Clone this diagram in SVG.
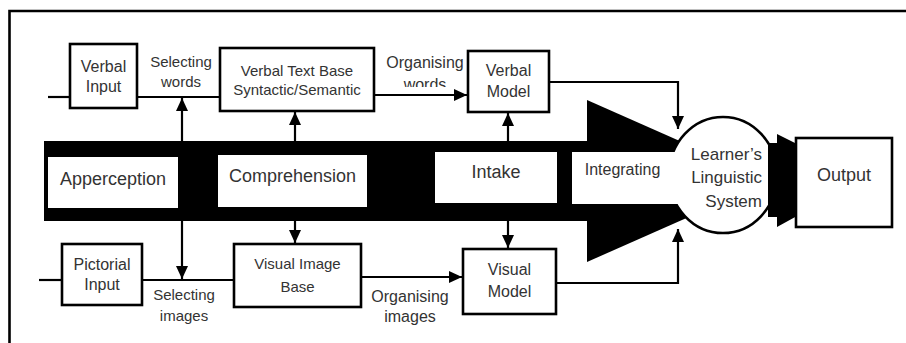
<svg xmlns="http://www.w3.org/2000/svg" width="906" height="343" viewBox="0 0 906 343">
<style>
  text { font-family: "Liberation Sans", Arial, sans-serif; fill: #333; text-anchor: middle; }
  .box { fill: #fff; stroke: #000; stroke-width: 2.6; }
  .wbox { fill: #fff; stroke: none; }
  .ln { fill: none; stroke: #000; stroke-width: 2.2; }
  .arr { fill: none; stroke: #000; stroke-width: 2.2; marker-end: url(#ah); }
  .s15 { font-size: 15px; }
  .s16 { font-size: 16px; }
  .s17 { font-size: 17px; }
  .s18 { font-size: 18px; }
</style>
<defs>
  <marker id="ah" markerUnits="userSpaceOnUse" markerWidth="13" markerHeight="12" refX="13" refY="6" orient="auto">
    <path d="M0,0 L13,6 L0,12 z" fill="#000"/>
  </marker>
  <clipPath id="clipWords"><rect x="380" y="70" width="90" height="17"/></clipPath>
</defs>
<rect width="906" height="343" fill="#fff"/>
<path d="M9.5,343 V11 H906" fill="none" stroke="#000" stroke-width="2.6"/>

<!-- main flow band -->
<g id="band">
  <rect x="44" y="141" width="544" height="80" fill="#000"/>
  <polygon points="587,100 587,262 770,181" fill="#000"/>
</g>

<g id="connectors">
  <line class="ln" x1="48" y1="97" x2="70" y2="97"/>
  <line class="ln" x1="137" y1="97" x2="220" y2="97"/>
  <line class="arr" x1="374" y1="95" x2="467" y2="95"/>
  <line class="arr" x1="182" y1="141" x2="182" y2="98"/>
  <line class="arr" x1="182" y1="221" x2="182" y2="279"/>
  <line class="ln" x1="39" y1="280" x2="62" y2="280"/>
  <line class="ln" x1="142" y1="280" x2="234" y2="280"/>
  <line class="arr" x1="361" y1="277" x2="462" y2="277"/>
  <line class="arr" x1="295" y1="141" x2="295" y2="112"/>
  <line class="arr" x1="295" y1="221" x2="295" y2="243"/>
  <line class="arr" x1="508" y1="141" x2="508" y2="113"/>
  <line class="arr" x1="508" y1="221" x2="508" y2="248"/>
  <path class="arr" d="M549,82 H678 V129"/>
  <path class="arr" d="M556,283 H678 V229"/>
</g>

<g id="verbal-input">
  <rect class="box" x="70" y="44" width="67" height="64"/>
  <text class="s16" x="103.5" y="72">Verbal</text>
  <text class="s16" x="103.5" y="92">Input</text>
</g>
<g id="selecting-words">
  <text class="s15" x="181" y="67">Selecting</text>
  <text class="s15" x="181" y="87">words</text>
</g>
<g id="verbal-text-base">
  <rect class="box" x="220" y="48" width="154" height="63"/>
  <text class="s15" x="297" y="76">Verbal Text Base</text>
  <text class="s15" x="297" y="95">Syntactic/Semantic</text>
</g>
<g id="organising-words">
  <text class="s16" x="425" y="68">Organising</text>
  <text class="s16" x="425" y="90" clip-path="url(#clipWords)">words</text>
</g>
<g id="verbal-model">
  <rect class="box" x="468" y="51" width="81" height="61"/>
  <text class="s16" x="508.5" y="76">Verbal</text>
  <text class="s16" x="508.5" y="97">Model</text>
</g>

<g id="apperception">
  <rect class="wbox" x="48" y="157" width="130" height="51"/>
  <text class="s18" x="113" y="185">Apperception</text>
</g>
<g id="comprehension">
  <rect class="wbox" x="218" y="155" width="149" height="52"/>
  <text class="s18" x="292.5" y="182">Comprehension</text>
</g>
<g id="intake">
  <rect class="wbox" x="435" y="152" width="122" height="51"/>
  <text class="s18" x="496" y="178">Intake</text>
</g>

<g id="learners-linguistic-system">
  <ellipse cx="723" cy="175" rx="54" ry="58" fill="#fff" stroke="#000" stroke-width="2.6"/>
  <polygon points="768,143 777,143 777,134 797,144 797,216 777,227 777,217 768,217" fill="#000"/>
</g>
<g id="integrating">
  <rect class="wbox" x="572" y="152" width="124" height="52"/>
  <text class="s16" x="622.5" y="175">Integrating</text>
</g>
<g id="learners-text">
  <text class="s17" x="762" y="160" style="text-anchor:end">Learner’s</text>
  <text class="s17" x="762" y="183" style="text-anchor:end">Linguistic</text>
  <text class="s17" x="762" y="207" style="text-anchor:end">System</text>
</g>
<g id="output">
  <rect class="box" x="796" y="138" width="96" height="89"/>
  <text class="s18" x="844" y="181">Output</text>
</g>

<g id="pictorial-input">
  <rect class="box" x="62" y="244" width="80" height="61"/>
  <text class="s16" x="102" y="270">Pictorial</text>
  <text class="s16" x="102" y="290">Input</text>
</g>
<g id="selecting-images">
  <text class="s15" x="184" y="300">Selecting</text>
  <text class="s15" x="184" y="321">images</text>
</g>
<g id="visual-image-base">
  <rect class="box" x="234" y="244" width="127" height="63"/>
  <text class="s15" x="297.5" y="269">Visual Image</text>
  <text class="s15" x="297.5" y="292">Base</text>
</g>
<g id="organising-images">
  <text class="s16" x="410" y="302">Organising</text>
  <text class="s16" x="410" y="322">images</text>
</g>
<g id="visual-model">
  <rect class="box" x="463" y="249" width="93" height="65"/>
  <text class="s16" x="509.5" y="275">Visual</text>
  <text class="s16" x="509.5" y="297">Model</text>
</g>
</svg>
